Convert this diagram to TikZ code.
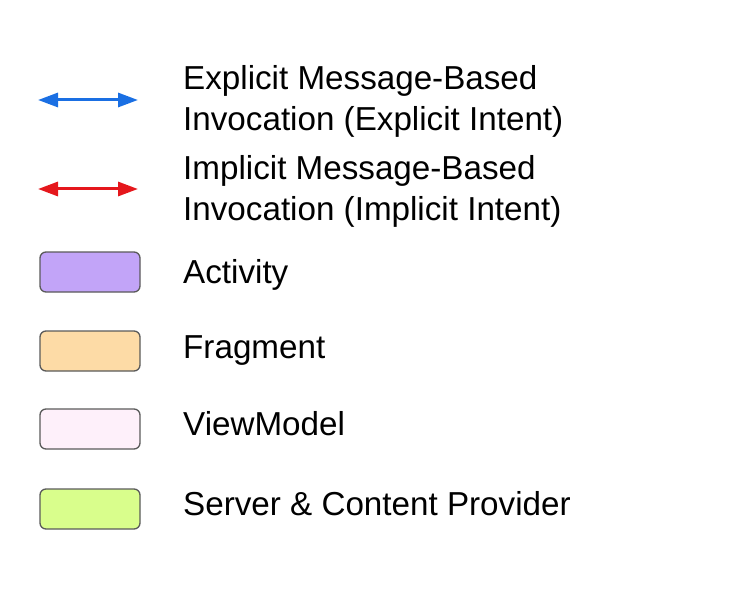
\documentclass[tikz,border=0pt]{standalone}
\usepackage{fontspec}
\setmainfont{Liberation Sans}
\usepackage{tikz}
\usetikzlibrary{arrows.meta,positioning}
\definecolor{explblue}{HTML}{1A6FE3}
\definecolor{implred}{HTML}{E5171C}
\definecolor{actpurple}{HTML}{C2A4F8}
\definecolor{fragorange}{HTML}{FDDBA6}
\definecolor{vmpink}{HTML}{FEF0FA}
\definecolor{srvgreen}{HTML}{D9FE8C}
\definecolor{edgegray}{HTML}{5A5A5A}

\begin{document}
\begin{tikzpicture}[x=1pt,y=-1pt,
        font=\fontsize{33.2}{41}\selectfont,
        keybox/.style={draw=edgegray,line width=1.3pt,rounded corners=6pt,
              minimum width=100pt,minimum height=40pt,inner sep=0pt},
        keytext/.style={anchor=base west,inner sep=0pt,align=left},
        keyarrow/.style={{Triangle[length=20pt,width=14pt]}-{Triangle[length=20pt,width=14pt]},line width=3pt}]
        \useasboundingbox (0,0) rectangle (738,612);
        % arrows
        \coordinate (explL) at (38,100);
        \coordinate (explR) at (138,100);
        \draw[keyarrow,explblue] (explL) -- (explR);
        \coordinate (implL) at (38,189);
        \coordinate (implR) at (138,189);
        \draw[keyarrow,implred] (implL) -- (implR);
        % base anchor sits on the last line
        \node[keytext] (expl) at (183,131) {Explicit Message-Based\\Invocation (Explicit Intent)};
        \node[keytext] (impl) at (183,221) {Implicit Message-Based\\Invocation (Implicit Intent)};
        % component boxes
        \node[keybox,fill=actpurple] (act) at (90,272) {};
        \node[keybox,fill=fragorange] (frag) at (90,351) {};
        \node[keybox,fill=vmpink] (vm) at (90,429) {};
        \node[keybox,fill=srvgreen] (srv) at (90,509) {};
        \node[keytext] (actlbl) at (183,283) {Activity};
        \node[keytext] (fraglbl) at (183,358) {Fragment};
        \node[keytext] (vmlbl) at (183,435) {ViewModel};
        \node[keytext] (srvlbl) at (183,515) {Server \& Content Provider};
      \end{tikzpicture}
\end{document}
